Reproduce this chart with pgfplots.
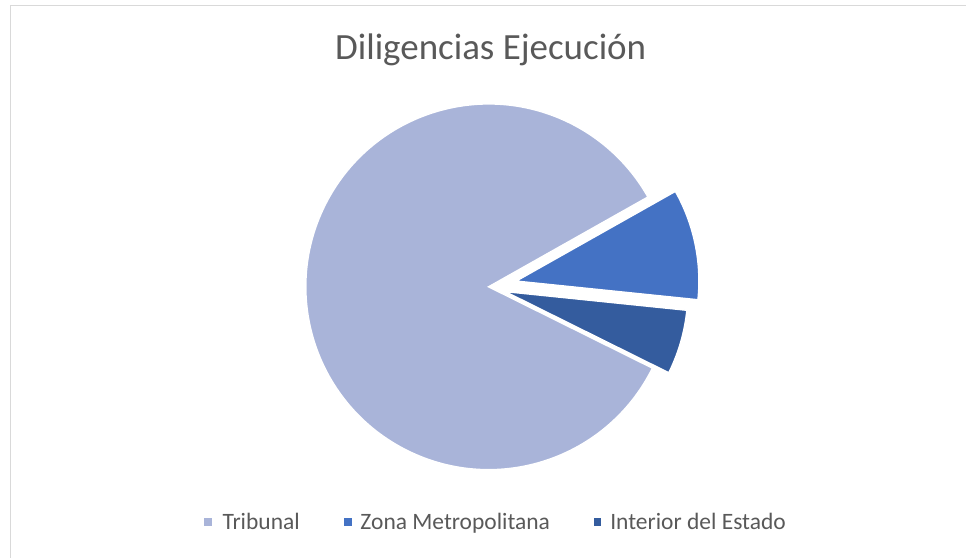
\documentclass[border=0pt]{standalone}
\usepackage{pgfplots}
\usepackage{pgfplotstable}
\pgfplotsset{compat=1.18}
\usepackage{fontspec}
\setmainfont{Carlito}
\definecolor{cTrib}{RGB}{169,180,217}
\definecolor{cZona}{RGB}{68,114,196}
\definecolor{cInt}{RGB}{52,92,158}
\definecolor{txt}{RGB}{89,89,89}
\definecolor{frame}{RGB}{217,217,217}

\pgfplotstableread{
label value
Tribunal 84.5
Zona 9.8
Interior 5.7
}\piedata

\begin{document}
\begin{tikzpicture}
\pgfplotstablegetelem{0}{value}\of\piedata \let\vA\pgfplotsretval
\pgfplotstablegetelem{1}{value}\of\piedata \let\vB\pgfplotsretval
\pgfplotstablegetelem{2}{value}\of\piedata \let\vC\pgfplotsretval
\pgfmathsetmacro\total{\vA+\vB+\vC}
\pgfmathsetmacro\sA{-26.4}
\pgfmathsetmacro\eA{\sA-360*(\vA/\total)}
\pgfmathsetmacro\eB{\eA-360*(\vB/\total)}
\pgfmathsetmacro\eC{\eB-360*(\vC/\total)}
\pgfmathsetmacro\mB{(\eA+\eB)/2}
\pgfmathsetmacro\mC{(\eB+\eC)/2}
\begin{axis}[
  scale only axis, width=967pt, height=558pt,
  xmin=0, xmax=967, ymin=0, ymax=558,
  hide axis, clip=false]
  \path (axis cs:0,0) rectangle (axis cs:967,558);
  % frame
  \draw[frame, line width=1.3pt] (axis cs:10.8,0) -- (axis cs:10.8,552.5) -- (axis cs:967,552.5);
  % title
  \node[anchor=base, text=txt, font=\fontsize{37}{44}\selectfont] at (axis cs:491,498) {Diligencias Ejecución};
  % slices
  \filldraw[fill=cTrib, draw=white, line width=1.5pt] (axis cs:489,271) -- ++(\sA:183pt) arc[start angle=\sA, end angle=\eA, radius=183pt] -- cycle;
  \filldraw[fill=cZona, draw=white, line width=1.5pt] ([shift={(\mB:28pt)}]axis cs:489,271) -- ++(\eA:183pt) arc[start angle=\eA, end angle=\eB, radius=183pt] -- cycle;
  \filldraw[fill=cInt, draw=white, line width=1.5pt] ([shift={(\mC:17pt)}]axis cs:489,271) -- ++(\eB:183pt) arc[start angle=\eB, end angle=\eC, radius=183pt] -- cycle;
  % legend
  \fill[cTrib] (axis cs:204.6,32) rectangle (axis cs:212.5,40);
  \node[anchor=base west, inner sep=0pt, text=txt, font=\fontsize{23.5}{28}\selectfont] at (axis cs:222.5,28.5) {Tribunal};
  \fill[cZona] (axis cs:343.9,32) rectangle (axis cs:351.8,40);
  \node[anchor=base west, inner sep=0pt, text=txt, font=\fontsize{23.5}{28}\selectfont] at (axis cs:360.5,28.5) {Zona Metropolitana};
  \fill[cInt] (axis cs:593.9,32) rectangle (axis cs:601.8,40);
  \node[anchor=base west, inner sep=0pt, text=txt, font=\fontsize{23.5}{28}\selectfont] at (axis cs:610.5,28.5) {Interior del Estado};
\end{axis}
\end{tikzpicture}
\end{document}
